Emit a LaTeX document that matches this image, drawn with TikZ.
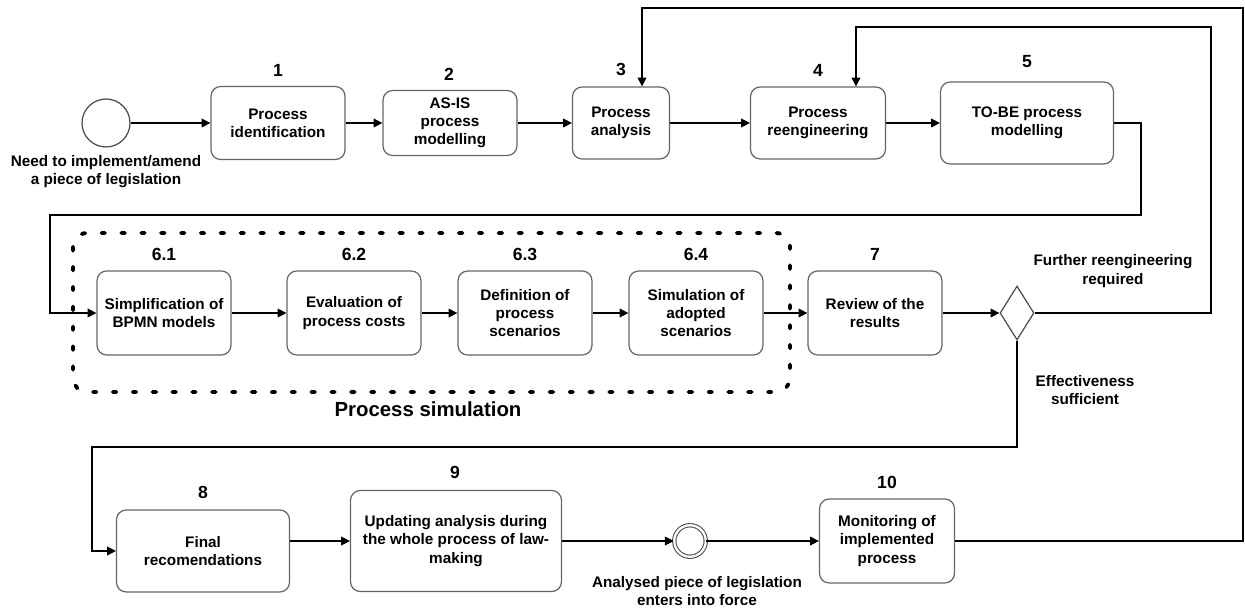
\documentclass[tikz,border=0pt]{standalone}
\usepackage{fontspec}
\setmainfont{Liberation Sans}
\usetikzlibrary{shapes.geometric,arrows.meta}

\newcommand{\taskfont}{\fontsize{8.7}{10.3}\selectfont\bfseries}
\newcommand{\numfont}{\fontsize{10}{12}\selectfont\bfseries}

\begin{document}
\begin{tikzpicture}[x=0.02cm, y=-0.02cm,
    task/.style={draw=black!60, line width=0.7pt, rounded corners=5.5pt, align=center, font=\taskfont, inner sep=1pt},
    num/.style={font=\numfont},
    note/.style={align=center, font=\taskfont},
    flow/.style={line width=0.6pt, -{Triangle[length=5pt,width=5pt]}}]
  \useasboundingbox (0,0) rectangle (1245,609);

  % top row
  \node[circle, draw=black!70, line width=0.7pt, minimum size=0.96cm, inner sep=0] (start) at (106,123) {};
  \node[note] (startlbl) at (106,172) {Need to implement/amend\\a piece of legislation};
  \node[task, minimum width=2.68cm, minimum height=1.46cm] (b1) at (278,123) {Process\\identification};
  \node[task, minimum width=2.68cm, minimum height=1.30cm] (b2) at (450,123) {AS-IS\\process\\modelling};
  \node[task, minimum width=1.94cm, minimum height=1.44cm] (b3) at (621,123) {Process\\analysis};
  \node[task, minimum width=2.70cm, minimum height=1.44cm] (b4) at (818,123) {Process\\reengineering};
  \node[task, minimum width=3.46cm, minimum height=1.64cm] (b5) at (1027,123) {TO-BE process\\modelling};
  \node[num] (n1) at (278,70) {1};
  \node[num] (n2) at (449,74) {2};
  \node[num] (n3) at (621,69) {3};
  \node[num] (n4) at (818,70) {4};
  \node[num] (n5) at (1027,62) {5};

  % simulation row
  \draw[line width=2.2pt, line cap=round, dash pattern=on 2pt off 9.3pt, rounded corners=8pt] (73,233) rectangle (790,392);
  \node[font=\fontsize{11.6}{14}\selectfont\bfseries] (simlbl) at (428,409) {Process simulation};
  \node[task, minimum width=2.68cm, minimum height=1.68cm] (s1) at (164,313) {Simplification of\\BPMN models};
  \node[task, minimum width=2.68cm, minimum height=1.68cm] (s2) at (354,313) {Evaluation of\\process costs};
  \node[task, minimum width=2.68cm, minimum height=1.68cm] (s3) at (525,313) {Definition of\\process\\scenarios};
  \node[task, minimum width=2.68cm, minimum height=1.68cm] (s4) at (696,313) {Simulation of\\adopted\\scenarios};
  \node[task, minimum width=2.68cm, minimum height=1.68cm] (b7) at (875,313) {Review of the\\results};
  \node[diamond, draw=black!70, line width=0.7pt, minimum width=0.68cm, minimum height=1.08cm, inner sep=0] (gw) at (1017,313) {};
  \node[num] (n61) at (164,254) {6.1};
  \node[num] (n62) at (354,254) {6.2};
  \node[num] (n63) at (525,254) {6.3};
  \node[num] (n64) at (696,254) {6.4};
  \node[num] (n7) at (875,254) {7};
  \node[note] (againlbl) at (1113,271) {Further reengineering\\required};
  \node[note] (oklbl) at (1085,390) {Effectiveness\\sufficient};

  % bottom row
  \node[task, minimum width=3.46cm, minimum height=1.64cm] (b8) at (203,551) {Final\\recomendations};
  \node[task, minimum width=4.22cm, minimum height=2.02cm] (b9) at (456,541) {Updating analysis during\\the whole process of law-\\making};
  \node[circle, draw=black!70, double, double distance=1.3pt, line width=0.6pt, minimum size=0.63cm, inner sep=0] (end) at (690,541) {};
  \node[note] (endlbl) at (697,591) {Analysed piece of legislation\\enters into force};
  \node[task, minimum width=2.70cm, minimum height=1.68cm] (b10) at (887,541) {Monitoring of\\implemented\\process};
  \node[num] (n8) at (203,492) {8};
  \node[num] (n9) at (455,472) {9};
  \node[num] (n10) at (887,482) {10};

  % turning points
  \coordinate (t1) at (1141,215);
  \coordinate (t2) at (50,215);
  \coordinate (t3) at (1211,27);
  \coordinate (t4) at (856,27);
  \coordinate (t5) at (1017,447);
  \coordinate (t6) at (92,447);
  \coordinate (o1) at (1243,8);
  \coordinate (o2) at (642,8);

  % flows
  \draw[flow] (start) -- (b1);
  \draw[flow] (b1) -- (b2);
  \draw[flow] (b2) -- (b3);
  \draw[flow] (b3) -- (b4);
  \draw[flow] (b4) -- (b5);
  \draw[flow] (b5.east) -| (t1) -- (t2) |- (s1.west);
  \draw[flow] (s1) -- (s2);
  \draw[flow] (s2) -- (s3);
  \draw[flow] (s3) -- (s4);
  \draw[flow] (s4) -- (b7);
  \draw[flow] (b7) -- (gw);
  \draw[flow] (gw.east) -| (t3) -- (t4) -- (t4 |- b4.north);
  \draw[flow] (gw.south) -- (t5) -- (t6) |- (b8.west);
  \draw[flow] (b8.east |- b9.west) -- (b9.west);
  \draw[flow] (b9) -- (end);
  \draw[flow] (end) -- (b10);
  \draw[flow] (b10.east) -| (o1) -- (o2) -- (o2 |- b3.north);
\end{tikzpicture}
\end{document}
